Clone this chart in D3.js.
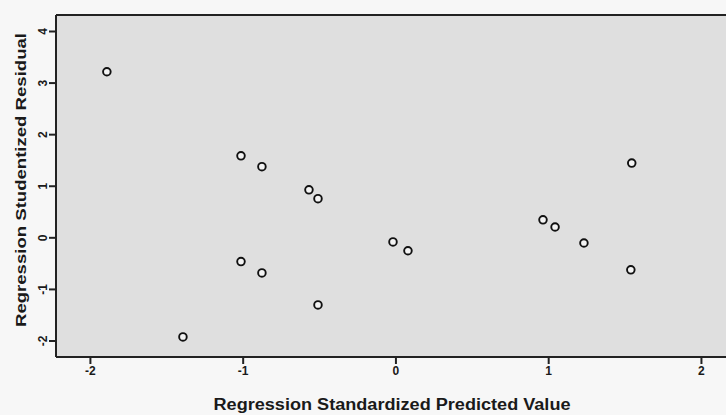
<!DOCTYPE html>
<html>
<head>
<meta charset="utf-8">
<script src="https://cdn.jsdelivr.net/npm/d3@7"></script>
<style>
  html, body { margin: 0; padding: 0; background: #f7f7f7; }
  svg { display: block; }
  text { font-family: "Liberation Sans", Arial, sans-serif; font-weight: bold; fill: #1a1a1a; }
</style>
</head>
<body>
<svg id="chart" width="726" height="415"></svg>
<script>
// Data
const predicted = [-1.889, -1.011, -0.874, -0.566, -0.507, -0.016, 0.082, 0.966, 1.045, 1.234, 1.547, 1.541, -1.011, -0.874, -0.507, -1.391];
const residual  = [3.21, 1.58, 1.37, 0.92, 0.75, -0.09, -0.26, 0.34, 0.20, -0.11, 1.44, -0.63, -0.47, -0.69, -1.31, -1.93];
const xTicks = [-2, -1, 0, 1, 2];
const yTicks = [-2, -1, 0, 1, 2, 3, 4];
const xTitle = "Regression Standardized Predicted Value";
const yTitle = "Regression Studentized Residual";

(function () {
const svg = d3.select("#chart");
const pLeft = 56, pRight = 726, pTop = 15, pBottom = 357;
const fmt = d => String(d);

const x = d3.scaleLinear().domain([-2.222, 2.164]).range([pLeft, pRight]);
const y = d3.scaleLinear().domain([-2.32, 4.31]).range([pBottom, pTop]);

// plot background
svg.append("rect").attr("x", pLeft).attr("y", pTop)
  .attr("width", pRight - pLeft).attr("height", pBottom - pTop)
  .attr("fill", "#dfdfdf");

// top frame line
svg.append("line").attr("x1", pLeft).attr("x2", pRight).attr("y1", pTop).attr("y2", pTop)
  .attr("stroke", "#222").attr("stroke-width", 2);

// X axis
const xAxis = svg.append("g").attr("transform", `translate(0,${pBottom})`)
  .call(d3.axisBottom(x).tickValues(xTicks).tickSize(7).tickPadding(2).tickFormat(fmt));
xAxis.select(".domain").attr("stroke", "#222").attr("stroke-width", 2).attr("d", `M${pLeft},0H${pRight}`);
xAxis.selectAll(".tick line").attr("stroke", "#222").attr("stroke-width", 2);
xAxis.selectAll(".tick text").attr("font-size", 12).attr("font-weight", "bold")
  .attr("font-family", "Liberation Sans, Arial, sans-serif").attr("fill", "#1a1a1a");

// Y axis
const yAxis = svg.append("g").attr("transform", `translate(${pLeft},0)`)
  .call(d3.axisLeft(y).tickValues(yTicks).tickSize(7).tickPadding(0).tickFormat(fmt));
yAxis.select(".domain").attr("stroke", "#222").attr("stroke-width", 2).attr("d", `M0,${pTop}V${pBottom}`);
yAxis.selectAll(".tick line").attr("stroke", "#222").attr("stroke-width", 2);
yAxis.selectAll(".tick text")
  .attr("font-size", 12).attr("font-weight", "bold")
  .attr("font-family", "Liberation Sans, Arial, sans-serif").attr("fill", "#1a1a1a")
  .attr("x", 0).attr("dy", 0)
  .attr("text-anchor", "middle")
  .attr("transform", "translate(-9,0) rotate(-90)");

// points
svg.append("g").selectAll("circle")
  .data(predicted.map((p, i) => [p, residual[i]]))
  .join("circle")
  .attr("cx", d => x(d[0])).attr("cy", d => y(d[1]))
  .attr("r", 3.8)
  .attr("fill", "#f4f4f4")
  .attr("stroke", "#111").attr("stroke-width", 1.9);

// titles
svg.append("text").attr("x", 392).attr("y", 410)
  .attr("text-anchor", "middle").attr("font-size", 16)
  .attr("textLength", 357).attr("lengthAdjust", "spacingAndGlyphs")
  .text(xTitle);

svg.append("text")
  .attr("transform", "translate(26,180) rotate(-90)")
  .attr("text-anchor", "middle").attr("font-size", 15)
  .attr("textLength", 294).attr("lengthAdjust", "spacingAndGlyphs")
  .text(yTitle);
})();
</script>
</body>
</html>
